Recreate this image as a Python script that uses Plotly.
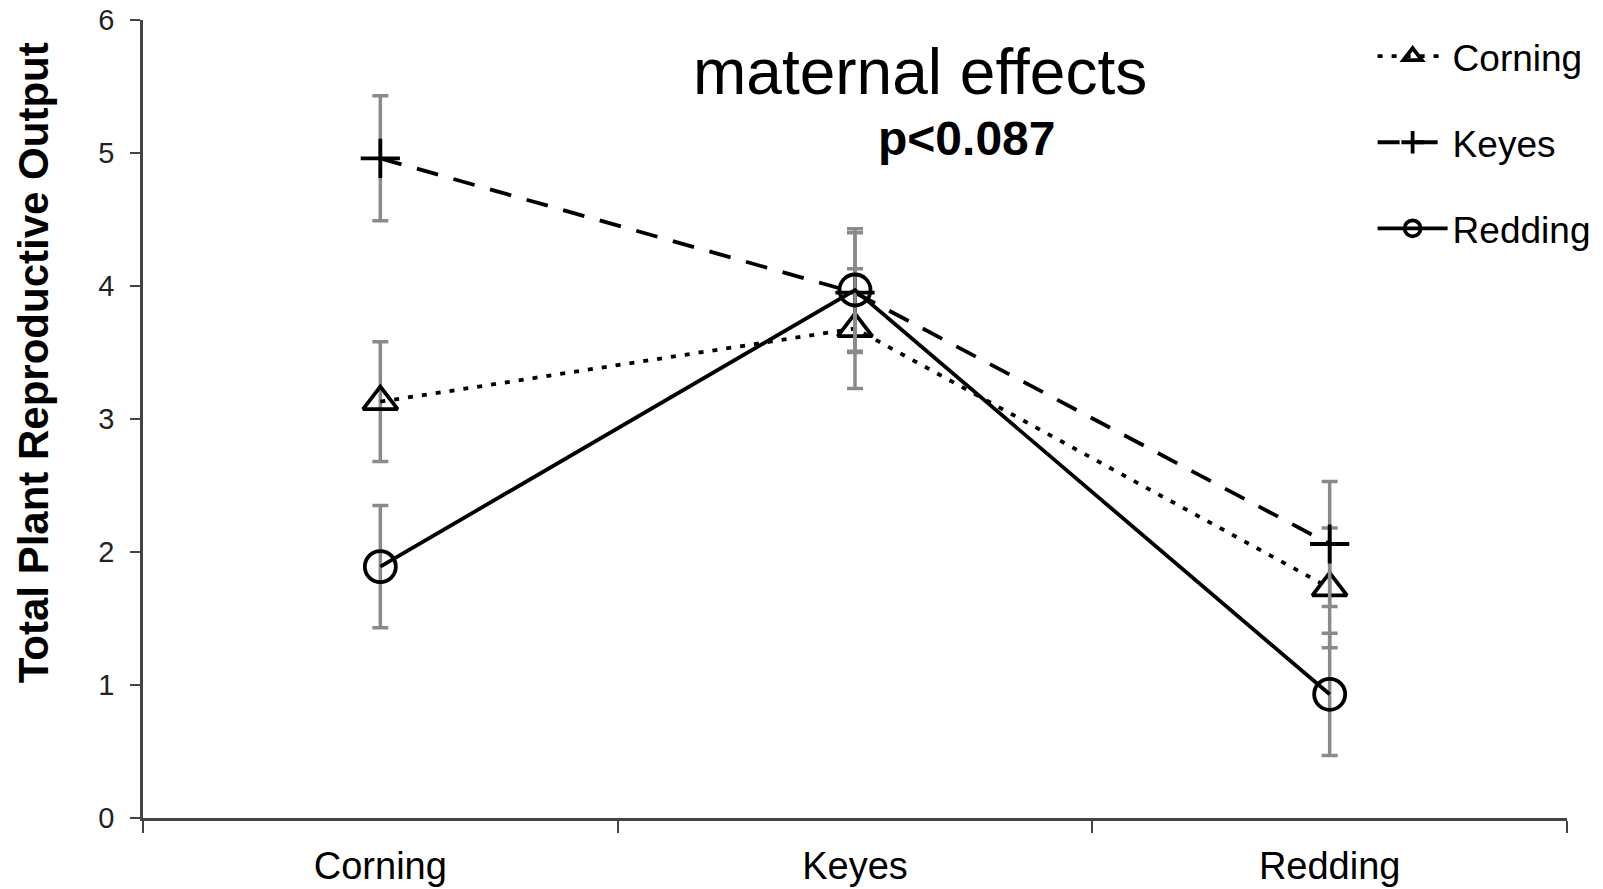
import plotly.graph_objects as go

sites = ["Corning", "Keyes", "Redding"]
series_names = ["Corning", "Keyes", "Redding"]
corning_vals = [3.13, 3.68, 1.73]
corning_err = [0.45, 0.45, 0.45]
keyes_vals = [4.96, 3.95, 2.06]
keyes_err = [0.47, 0.45, 0.47]
redding_vals = [1.89, 3.97, 0.93]
redding_err = [0.46, 0.46, 0.46]
y_ticks = [0, 1, 2, 3, 4, 5, 6]

W, H = 1603, 889
ml, mt = 143, 20
pw, ph = 1424, 798
mr = W - ml - pw
mb = H - mt - ph

styles = [
    dict(dash="5px,9px", symbol="triangle-up-open", size=30),
    dict(dash="22px,16px", symbol="cross-thin", size=28),
    dict(dash="solid", symbol="circle-open", size=31),
]
data = [(corning_vals, corning_err), (keyes_vals, keyes_err), (redding_vals, redding_err)]

fig = go.Figure()
for name, (vals, err), st in zip(series_names, data, styles):
    fig.add_trace(go.Scatter(
        x=sites, y=vals, name=name, mode="lines+markers",
        line=dict(color="black", width=3.8, dash=st["dash"]),
        marker=dict(symbol=st["symbol"], size=st["size"], color="black",
                    line=dict(color="black", width=3.8)),
        error_y=dict(type="data", array=err, visible=True, color="#8a8a8a",
                     thickness=3.5, width=8),
        legendgroup=name,
    ))

fig.add_annotation(text="maternal effects", xref="paper", yref="paper",
                   x=0.5457, y=0.935, xanchor="center", yanchor="middle", showarrow=False,
                   font=dict(family="Liberation Sans, Arial", size=64, color="black"))
fig.add_annotation(text="<b>p<0.087</b>", xref="paper", yref="paper",
                   x=0.578, y=0.852, xanchor="center", yanchor="middle", showarrow=False,
                   font=dict(family="Liberation Sans, Arial", size=48, color="black"))
fig.add_annotation(text="<b>Total Plant Reproductive Output</b>", xref="paper", yref="paper",
                   x=-0.0772, y=0.570, xanchor="center", yanchor="middle",
                   showarrow=False, textangle=-90,
                   font=dict(family="Liberation Sans, Arial", size=42, color="black"))

fig.update_layout(
    width=W, height=H,
    margin=dict(l=ml, r=mr, t=mt, b=mb, autoexpand=False),
    paper_bgcolor="white", plot_bgcolor="white",
    font=dict(family="Liberation Sans, Arial", color="black"),
    legend=dict(x=0.8635, y=0.993, xanchor="left", yanchor="top",
                font=dict(family="Liberation Sans Narrow, Liberation Sans, Arial", size=37, color="black"),
                tracegroupgap=35, bgcolor="rgba(0,0,0,0)", itemwidth=70),
    xaxis=dict(type="category", tickson="boundaries", range=[-0.5, 2.5], automargin=False,
               showline=True, linecolor="#444", linewidth=2.5,
               ticks="outside", ticklen=12, tickcolor="#444", tickwidth=2,
               showgrid=False, zeroline=False, ticklabelstandoff=13,
               tickfont=dict(family="Liberation Sans Narrow, Liberation Sans, Arial", size=38, color="black")),
    yaxis=dict(range=[0, 6], tickvals=y_ticks, showline=True, linecolor="#444", linewidth=2.5,
               automargin=False, ticks="outside", ticklen=10, tickcolor="#444", tickwidth=2,
               showgrid=False, zeroline=False, ticklabelstandoff=10, ticklabeloverflow="allow",
               tickfont=dict(family="Liberation Sans, Arial", size=29, color="#222")),
)

fig.write_html("out.html", config={"displayModeBar": False},
               post_script="document.body.style.margin='0';document.body.style.overflow='hidden';")
